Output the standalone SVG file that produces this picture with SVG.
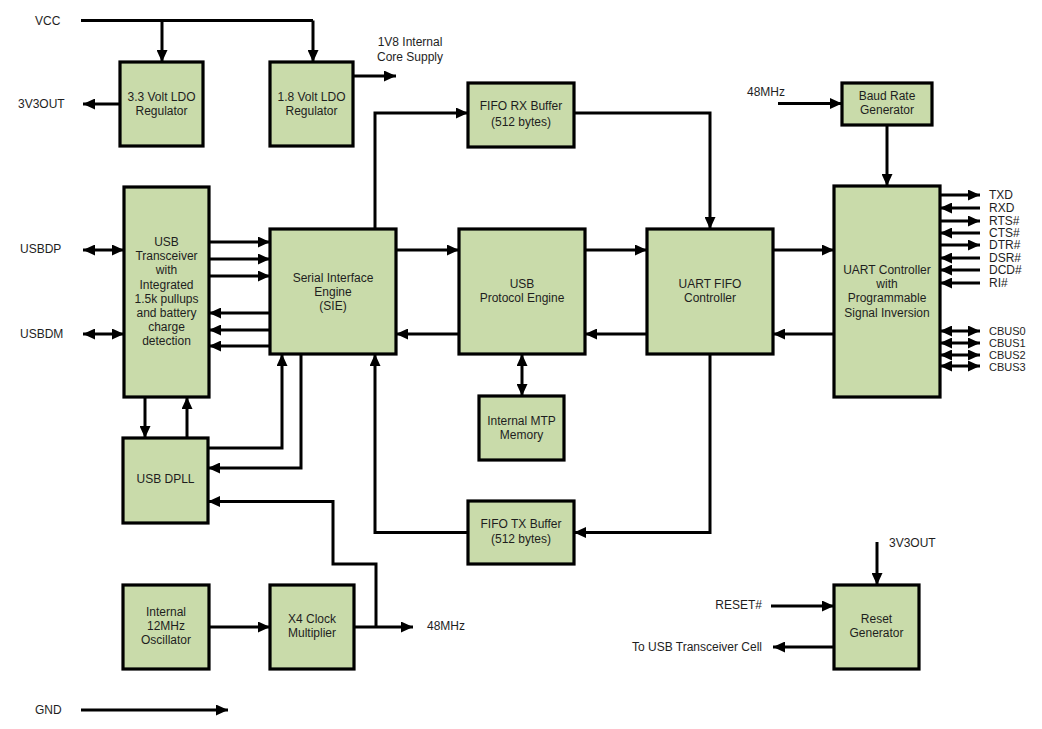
<svg xmlns="http://www.w3.org/2000/svg" width="1042" height="729" viewBox="0 0 1042 729">
<style>
.box{fill:#c9dbaa;stroke:#000;stroke-width:3.2}
.w{fill:none;stroke:#000;stroke-width:3}
.a{marker-end:url(#ah)}
.d{marker-start:url(#ah);marker-end:url(#ah)}
text{font-family:"Liberation Sans",Arial,sans-serif;font-size:12px;fill:#1e1e1e}
.c{text-anchor:middle}
.r{text-anchor:end}
.s{font-size:11px}
</style>
<defs>
<marker id="ah" markerUnits="userSpaceOnUse" markerWidth="13" markerHeight="11" refX="12" refY="5.5" orient="auto-start-reverse">
<path d="M0,0 L12,5.5 L0,11 z" fill="#000"/>
</marker>
</defs>
<rect width="1042" height="729" fill="#fff"/>

<g id="connectors">
<path class="w" d="M81,20.5 H313"/>
<path class="w a" d="M162,20.5 V62"/>
<path class="w a" d="M313,20.5 V62"/>
<path class="w a" d="M120,104 H83"/>
<path class="w a" d="M353,76 H396"/>
<path class="w a" d="M375,229 V113 H468"/>
<path class="w a" d="M574,113 H710 V229"/>
<path class="w a" d="M778,103.5 H842"/>
<path class="w a" d="M887,125 V186"/>
<path class="w a" d="M209,242 H270"/>
<path class="w a" d="M209,259 H270"/>
<path class="w a" d="M209,276 H270"/>
<path class="w a" d="M270,313 H209"/>
<path class="w a" d="M270,330 H209"/>
<path class="w a" d="M270,346 H209"/>
<path class="w d" d="M83,250 H124"/>
<path class="w d" d="M83,334 H124"/>
<path class="w a" d="M145,397 V438"/>
<path class="w a" d="M187,438 V397"/>
<path class="w a" d="M208,448 H282 V354"/>
<path class="w a" d="M301,354 V468 H208"/>
<path class="w a" d="M376,627 V564 H333 V501.5 H208"/>
<path class="w a" d="M354,627 H413"/>
<path class="w a" d="M468,532.5 H375 V354"/>
<path class="w a" d="M396,250 H459"/>
<path class="w a" d="M459,334 H396"/>
<path class="w a" d="M585,250 H647"/>
<path class="w a" d="M647,334 H585"/>
<path class="w a" d="M773,250 H834"/>
<path class="w a" d="M834,334 H773"/>
<path class="w d" d="M522,354 V396"/>
<path class="w a" d="M710,354 V532.5 H574"/>
<path class="w a" d="M940,195 H980"/>
<path class="w a" d="M980,208 H940"/>
<path class="w a" d="M940,221 H980"/>
<path class="w a" d="M980,233 H940"/>
<path class="w a" d="M940,245 H980"/>
<path class="w a" d="M980,258 H940"/>
<path class="w a" d="M980,270 H940"/>
<path class="w a" d="M980,283 H940"/>
<path class="w d" d="M940,331 H980"/>
<path class="w d" d="M940,343 H980"/>
<path class="w d" d="M940,355 H980"/>
<path class="w d" d="M940,366 H980"/>
<path class="w a" d="M877,542 V585"/>
<path class="w a" d="M771,606 H834"/>
<path class="w a" d="M834,647 H773"/>
<path class="w a" d="M123,627 H270"/>
<path class="w a" d="M81,710 H228"/>
</g>

<g id="labels">
<text x="35" y="25">VCC</text>
<text x="18" y="108">3V3OUT</text>
<text x="410" y="46" class="c">1V8 Internal</text>
<text x="410" y="61" class="c">Core Supply</text>
<text x="747" y="96">48MHz</text>
<text x="20" y="253">USBDP</text>
<text x="20" y="338">USBDM</text>
<text x="427" y="630">48MHz</text>
<text x="35" y="714">GND</text>
<text x="889" y="547">3V3OUT</text>
<text x="762" y="609" class="r">RESET#</text>
<text x="762" y="651" class="r">To USB Transceiver Cell</text>
<text x="989" y="199">TXD</text>
<text x="989" y="212">RXD</text>
<text x="989" y="225">RTS#</text>
<text x="989" y="237">CTS#</text>
<text x="989" y="249">DTR#</text>
<text x="989" y="262">DSR#</text>
<text x="989" y="274">DCD#</text>
<text x="989" y="287">RI#</text>
<text x="989" y="335" class="s">CBUS0</text>
<text x="989" y="347" class="s">CBUS1</text>
<text x="989" y="359" class="s">CBUS2</text>
<text x="989" y="370.5" class="s">CBUS3</text>
</g>

<g id="ldo33"><rect class="box" x="120" y="62" width="83" height="84"/>
<text x="161.5" y="101" class="c">3.3 Volt LDO</text><text x="161.5" y="115" class="c">Regulator</text></g>
<g id="ldo18"><rect class="box" x="270" y="62" width="83" height="84"/>
<text x="311.5" y="101" class="c">1.8 Volt LDO</text><text x="311.5" y="115" class="c">Regulator</text></g>
<g id="fiforx"><rect class="box" x="468" y="83" width="106" height="64"/>
<text x="521" y="110" class="c">FIFO RX Buffer</text><text x="521" y="126" class="c">(512 bytes)</text></g>
<g id="baud"><rect class="box" x="842" y="83" width="90" height="42"/>
<text x="887" y="100" class="c">Baud Rate</text><text x="887" y="114" class="c">Generator</text></g>
<g id="transceiver"><rect class="box" x="124" y="187" width="85" height="210"/>
<text x="166.5" y="246" class="c">USB</text>
<text x="166.5" y="260" class="c">Transceiver</text>
<text x="166.5" y="274" class="c">with</text>
<text x="166.5" y="289" class="c">Integrated</text>
<text x="166.5" y="303" class="c">1.5k pullups</text>
<text x="166.5" y="317" class="c">and battery</text>
<text x="166.5" y="331" class="c">charge</text>
<text x="166.5" y="345" class="c">detection</text></g>
<g id="sie"><rect class="box" x="270" y="229" width="126" height="125"/>
<text x="333" y="282" class="c">Serial Interface</text><text x="333" y="296" class="c">Engine</text><text x="333" y="310" class="c">(SIE)</text></g>
<g id="usbpe"><rect class="box" x="459" y="229" width="126" height="125"/>
<text x="522" y="288" class="c">USB</text><text x="522" y="302" class="c">Protocol Engine</text></g>
<g id="uartfifo"><rect class="box" x="647" y="229" width="126" height="125"/>
<text x="710" y="288" class="c">UART FIFO</text><text x="710" y="302" class="c">Controller</text></g>
<g id="uartctrl"><rect class="box" x="834" y="186" width="106" height="211"/>
<text x="887" y="274" class="c">UART Controller</text><text x="887" y="288" class="c">with</text><text x="887" y="302" class="c">Programmable</text><text x="887" y="317" class="c">Signal Inversion</text></g>
<g id="mtp"><rect class="box" x="479" y="396" width="85" height="64"/>
<text x="521.5" y="425" class="c">Internal MTP</text><text x="521.5" y="439" class="c">Memory</text></g>
<g id="fifotx"><rect class="box" x="468" y="501" width="106" height="63"/>
<text x="521" y="528" class="c">FIFO TX Buffer</text><text x="521" y="543" class="c">(512 bytes)</text></g>
<g id="dpll"><rect class="box" x="123" y="438" width="85" height="85"/>
<text x="165.5" y="483" class="c">USB DPLL</text></g>
<g id="osc"><rect class="box" x="123" y="585" width="86" height="84"/>
<text x="166" y="616" class="c">Internal</text><text x="166" y="630" class="c">12MHz</text><text x="166" y="644" class="c">Oscillator</text></g>
<g id="x4"><rect class="box" x="270" y="585" width="84" height="84"/>
<text x="312" y="623" class="c">X4 Clock</text><text x="312" y="637" class="c">Multiplier</text></g>
<g id="reset"><rect class="box" x="834" y="585" width="85" height="84"/>
<text x="876.5" y="623" class="c">Reset</text><text x="876.5" y="637" class="c">Generator</text></g>
</svg>
